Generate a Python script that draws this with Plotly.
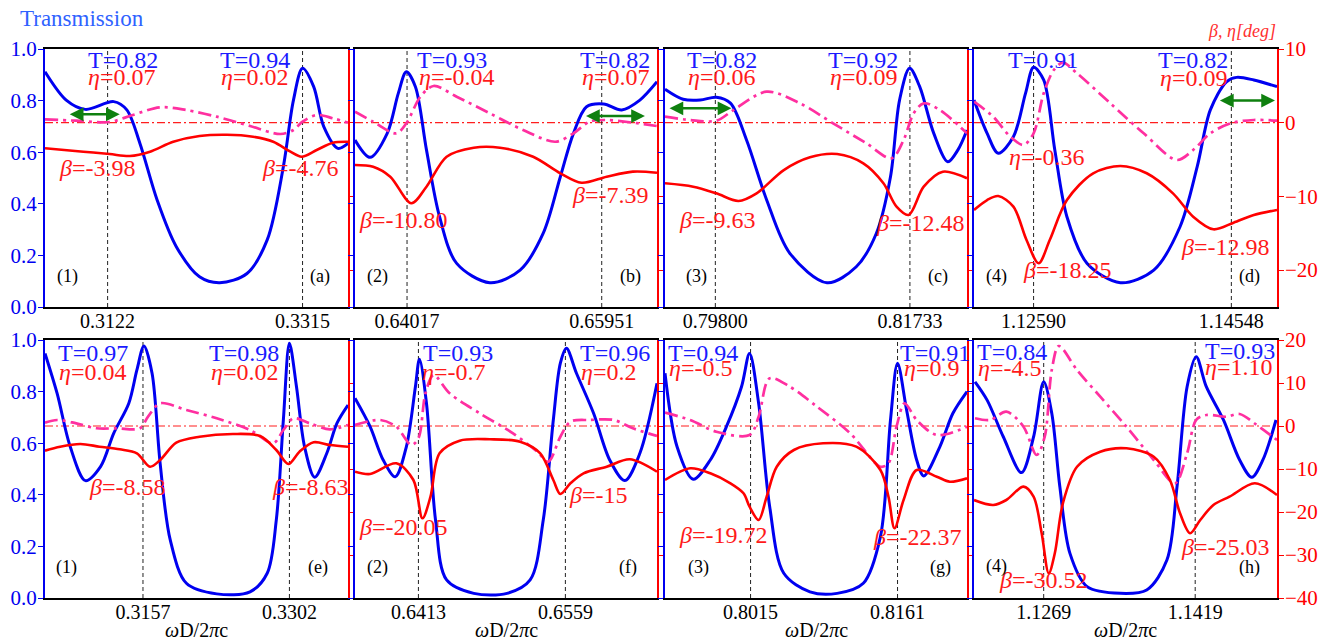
import plotly.graph_objects as go

# ---------------- DATA ----------------
# Panel (a)
freq_T_a = [0.3060, 0.3081, 0.3100, 0.3128, 0.3141, 0.3154, 0.3171, 0.3190, 0.3213, 0.3233, 0.3260, 0.3280, 0.3296, 0.3306, 0.3315, 0.3326, 0.3336, 0.3350, 0.3360]
T_a = [0.912, 0.802, 0.766, 0.796, 0.764, 0.634, 0.415, 0.234, 0.117, 0.094, 0.130, 0.260, 0.544, 0.802, 0.925, 0.854, 0.699, 0.615, 0.634]
freq_beta_a = [0.3060, 0.3098, 0.3124, 0.3144, 0.3164, 0.3187, 0.3213, 0.3240, 0.3266, 0.3286, 0.3303, 0.3314, 0.3329, 0.3345, 0.3360]
beta_a = [-3.47, -3.93, -4.25, -4.52, -3.93, -2.58, -1.80, -1.63, -1.90, -2.58, -3.93, -4.61, -3.70, -2.71, -2.58]
freq_eta_a = [0.3060, 0.3091, 0.3124, 0.3147, 0.3174, 0.3200, 0.3230, 0.3263, 0.3293, 0.3306, 0.3315, 0.3329, 0.3345, 0.3360]
eta_a = [0.46, 0.27, 0.10, 1.05, 2.09, 1.72, 0.82, -0.45, -1.53, -0.99, 0.14, 1.05, 0.60, 0.0]

# Panel (b)
freq_T_b = [0.6350, 0.6365, 0.6382, 0.6393, 0.6401, 0.6410, 0.6421, 0.6434, 0.6451, 0.6484, 0.6514, 0.6537, 0.6554, 0.6567, 0.6580, 0.6597, 0.6615, 0.6633, 0.6650]
T_b = [0.647, 0.580, 0.673, 0.828, 0.912, 0.854, 0.609, 0.350, 0.169, 0.094, 0.143, 0.286, 0.505, 0.673, 0.776, 0.787, 0.764, 0.802, 0.873]
freq_beta_b = [0.6350, 0.6368, 0.6385, 0.6406, 0.6421, 0.6441, 0.6468, 0.6494, 0.6527, 0.6554, 0.6575, 0.6600, 0.6626, 0.6650]
beta_b = [-5.74, -5.97, -7.32, -10.93, -8.68, -4.61, -3.39, -3.39, -4.61, -6.86, -8.14, -7.32, -6.64, -6.78]
freq_eta_b = [0.6350, 0.6368, 0.6391, 0.6401, 0.6415, 0.6428, 0.6451, 0.6484, 0.6517, 0.6549, 0.6567, 0.6583, 0.6600, 0.6626, 0.6650]
eta_b = [1.49, 0.14, -1.44, -0.08, 3.53, 4.98, 3.53, 1.27, -0.99, -2.58, -1.44, 0.14, 0.37, 0.01, -0.45]

# Panel (c)
freq_T_c = [0.7930, 0.7948, 0.7965, 0.7981, 0.7995, 0.8011, 0.8031, 0.8054, 0.8091, 0.8120, 0.8140, 0.8154, 0.8163, 0.8173, 0.8183, 0.8197, 0.8211, 0.8221, 0.8230]
T_c = [0.844, 0.805, 0.802, 0.813, 0.790, 0.647, 0.415, 0.208, 0.094, 0.156, 0.286, 0.505, 0.802, 0.925, 0.854, 0.673, 0.563, 0.609, 0.686]
freq_beta_c = [0.7930, 0.7958, 0.7981, 0.8003, 0.8021, 0.8048, 0.8074, 0.8101, 0.8127, 0.8147, 0.8160, 0.8172, 0.8187, 0.8206, 0.8230]
beta_c = [-8.22, -8.68, -9.58, -10.62, -9.58, -6.42, -4.69, -4.25, -5.51, -8.22, -11.39, -12.52, -8.68, -6.64, -7.54]
freq_eta_c = [0.7930, 0.7955, 0.7981, 0.7998, 0.8031, 0.8064, 0.8097, 0.8130, 0.8155, 0.8167, 0.8177, 0.8187, 0.8203, 0.8230]
eta_c = [0.82, 0.37, 0.27, 1.72, 4.21, 2.63, -0.08, -2.79, -4.83, -2.35, 1.27, 2.63, 1.72, -1.44]

# Panel (d)
freq_T_d = [1.1200, 1.1213, 1.1224, 1.1239, 1.1251, 1.1259, 1.1269, 1.1280, 1.1292, 1.1312, 1.1345, 1.1378, 1.1404, 1.1421, 1.1434, 1.1450, 1.1460, 1.1477, 1.1500]
T_d = [0.802, 0.673, 0.596, 0.660, 0.828, 0.929, 0.880, 0.609, 0.350, 0.169, 0.094, 0.143, 0.311, 0.544, 0.764, 0.873, 0.890, 0.880, 0.854]
freq_beta_d = [1.1200, 1.1213, 1.1224, 1.1239, 1.1252, 1.1264, 1.1275, 1.1292, 1.1318, 1.1345, 1.1371, 1.1397, 1.1417, 1.1437, 1.1457, 1.1477, 1.1500]
beta_d = [-11.84, -10.49, -9.94, -11.39, -15.91, -19.07, -15.91, -10.49, -6.86, -5.87, -6.86, -9.58, -12.75, -14.46, -13.56, -12.52, -11.84]
freq_eta_d = [1.1200, 1.1219, 1.1236, 1.1249, 1.1259, 1.1269, 1.1279, 1.1288, 1.1302, 1.1335, 1.1368, 1.1401, 1.1417, 1.1434, 1.1454, 1.1477, 1.1500]
eta_d = [2.85, 0.82, -1.90, -3.02, -1.44, 3.99, 7.15, 8.14, 6.70, 2.63, -1.44, -5.06, -3.70, -1.44, -0.08, 0.37, 0.27]

# Panel (e)
freq_T_e = [0.3060, 0.3072, 0.3085, 0.3100, 0.3115, 0.3128, 0.3143, 0.3151, 0.3158, 0.3166, 0.3174, 0.3184, 0.3200, 0.3230, 0.3263, 0.3280, 0.3289, 0.3296, 0.3302, 0.3309, 0.3317, 0.3327, 0.3339, 0.3349, 0.3360]
T_e = [0.948, 0.793, 0.586, 0.455, 0.509, 0.638, 0.755, 0.884, 0.977, 0.871, 0.522, 0.225, 0.057, 0.016, 0.024, 0.096, 0.302, 0.690, 0.987, 0.819, 0.586, 0.468, 0.561, 0.677, 0.748]
freq_beta_e = [0.3060, 0.3075, 0.3095, 0.3114, 0.3134, 0.3151, 0.3164, 0.3174, 0.3190, 0.3213, 0.3246, 0.3273, 0.3289, 0.3301, 0.3312, 0.3326, 0.3342, 0.3360]
beta_e = [-5.74, -4.81, -4.19, -4.81, -5.42, -6.35, -9.47, -7.91, -3.88, -2.49, -1.86, -2.33, -5.58, -8.84, -5.98, -3.79, -4.42, -4.81]
freq_eta_e = [0.3060, 0.3072, 0.3091, 0.3111, 0.3131, 0.3154, 0.3162, 0.3174, 0.3200, 0.3230, 0.3263, 0.3286, 0.3296, 0.3306, 0.3322, 0.3342, 0.3360]
eta_e = [0.77, 1.40, 0.62, -0.53, -0.53, -0.53, 2.16, 5.28, 3.72, 1.79, -0.93, -4.02, -0.93, 1.79, 0.62, -0.77, 0.23]

# Panel (f)
freq_T_f = [0.6350, 0.6365, 0.6378, 0.6390, 0.6401, 0.6410, 0.6414, 0.6421, 0.6430, 0.6441, 0.6468, 0.6501, 0.6524, 0.6537, 0.6547, 0.6554, 0.6560, 0.6570, 0.6587, 0.6603, 0.6618, 0.6633, 0.6650]
T_f = [0.774, 0.664, 0.535, 0.470, 0.586, 0.819, 0.925, 0.755, 0.302, 0.070, 0.018, 0.018, 0.070, 0.302, 0.690, 0.910, 0.968, 0.871, 0.716, 0.535, 0.455, 0.561, 0.832]
freq_beta_f = [0.6350, 0.6365, 0.6391, 0.6408, 0.6417, 0.6425, 0.6434, 0.6454, 0.6484, 0.6514, 0.6534, 0.6547, 0.6554, 0.6564, 0.6577, 0.6600, 0.6623, 0.6650]
beta_f = [-10.63, -11.16, -8.67, -12.56, -21.47, -16.44, -6.35, -3.41, -3.09, -3.65, -6.35, -12.56, -15.81, -13.33, -11.0, -9.47, -7.74, -10.63]
freq_eta_f = [0.6350, 0.6375, 0.6391, 0.6406, 0.6413, 0.6420, 0.6428, 0.6444, 0.6474, 0.6507, 0.6531, 0.6542, 0.6554, 0.6564, 0.6583, 0.6607, 0.6626, 0.6650]
eta_f = [0.23, 1.40, -0.16, -4.42, -2.86, 7.60, 11.86, 7.60, 2.95, -1.70, -5.98, -8.30, -2.49, 1.0, 1.40, 1.40, -0.53, -2.33]

# Panel (g)
freq_T_g = [0.7930, 0.7942, 0.7958, 0.7975, 0.7991, 0.8006, 0.8014, 0.8023, 0.8034, 0.8048, 0.8074, 0.8101, 0.8127, 0.8144, 0.8154, 0.8161, 0.8170, 0.8180, 0.8187, 0.8203, 0.8216, 0.8230]
T_g = [0.871, 0.586, 0.460, 0.535, 0.664, 0.819, 0.948, 0.755, 0.354, 0.096, 0.024, 0.018, 0.057, 0.238, 0.690, 0.910, 0.729, 0.535, 0.473, 0.586, 0.716, 0.800]
freq_beta_g = [0.7930, 0.7955, 0.7975, 0.7995, 0.8008, 0.8014, 0.8023, 0.8031, 0.8041, 0.8058, 0.8087, 0.8120, 0.8144, 0.8152, 0.8158, 0.8167, 0.8180, 0.8200, 0.8213, 0.8230]
beta_g = [-12.56, -9.84, -11.0, -13.33, -15.65, -18.77, -21.86, -16.44, -9.47, -5.58, -4.02, -4.81, -10.23, -16.44, -23.79, -17.21, -10.23, -11.79, -12.95, -12.16]
freq_eta_g = [0.7930, 0.7955, 0.7981, 0.8014, 0.8023, 0.8034, 0.8054, 0.8081, 0.8114, 0.8144, 0.8152, 0.8160, 0.8168, 0.8180, 0.8200, 0.8230]
eta_g = [3.10, 1.40, -1.33, -2.09, 2.16, 11.09, 9.14, 4.49, -1.70, -9.47, -8.67, -0.16, 5.28, 1.40, -2.09, -0.16]

# Panel (h)
freq_T_h = [1.1201, 1.1213, 1.1229, 1.1247, 1.1259, 1.1269, 1.1277, 1.1285, 1.1295, 1.1312, 1.1345, 1.1371, 1.1391, 1.1401, 1.1411, 1.1420, 1.1430, 1.1447, 1.1463, 1.1475, 1.1486, 1.1499]
T_h = [0.838, 0.767, 0.625, 0.486, 0.625, 0.838, 0.716, 0.431, 0.173, 0.044, 0.018, 0.031, 0.147, 0.431, 0.819, 0.935, 0.819, 0.690, 0.535, 0.468, 0.535, 0.690]
freq_beta_h = [1.1200, 1.1219, 1.1232, 1.1249, 1.1259, 1.1267, 1.1274, 1.1280, 1.1288, 1.1302, 1.1325, 1.1351, 1.1378, 1.1394, 1.1404, 1.1414, 1.1424, 1.1437, 1.1453, 1.1478, 1.1500]
beta_h = [-17.21, -18.37, -17.21, -14.11, -16.44, -24.95, -34.26, -29.6, -17.98, -9.47, -5.98, -5.19, -7.14, -12.56, -20.3, -24.95, -21.86, -18.37, -16.44, -13.33, -16.05]
freq_eta_h = [1.1201, 1.1216, 1.1232, 1.1249, 1.1262, 1.1270, 1.1277, 1.1284, 1.1302, 1.1325, 1.1351, 1.1378, 1.1399, 1.1411, 1.1420, 1.1430, 1.1450, 1.1463, 1.1480, 1.1500]
eta_h = [1.79, 1.40, 3.33, -0.16, -6.74, -2.49, 13.02, 18.60, 13.02, 6.81, -0.16, -7.91, -13.33, -6.35, 1.40, 2.56, 2.16, 2.79, 0.23, -3.26]

# marked frequencies (dashed lines and tick labels)
marks = {
    "a": [0.3122, 0.3315], "b": [0.64017, 0.65951], "c": [0.79800, 0.81733], "d": [1.12590, 1.14548],
    "e": [0.3157, 0.3302], "f": [0.6413, 0.6559], "g": [0.8015, 0.8161], "h": [1.1269, 1.1419],
}
mark_text = {
    "a": ["0.3122", "0.3315"], "b": ["0.64017", "0.65951"], "c": ["0.79800", "0.81733"], "d": ["1.12590", "1.14548"],
    "e": ["0.3157", "0.3302"], "f": ["0.6413", "0.6559"], "g": ["0.8015", "0.8161"], "h": ["1.1269", "1.1419"],
}
T_labels = {
    "a": ["T=0.82", "T=0.94"], "b": ["T=0.93", "T=0.82"], "c": ["T=0.82", "T=0.92"], "d": ["T=0.91", "T=0.82"],
    "e": ["T=0.97", "T=0.98"], "f": ["T=0.93", "T=0.96"], "g": ["T=0.94", "T=0.91"], "h": ["T=0.84", "T=0.93"],
}
eta_labels = {
    "a": ["0.07", "0.02"], "b": ["-0.04", "0.07"], "c": ["0.06", "0.09"], "d": ["-0.36", "0.09"],
    "e": ["0.04", "0.02"], "f": ["-0.7", "0.2"], "g": ["-0.5", "0.9"], "h": ["-4.5", "1.10"],
}
beta_labels = {
    "a": ["-3.98", "-4.76"], "b": ["-10.80", "-7.39"], "c": ["-9.63", "-12.48"], "d": ["-18.25", "-12.98"],
    "e": ["-8.58", "-8.63"], "f": ["-20.05", "-15"], "g": ["-19.72", "-22.37"], "h": ["-30.52", "-25.03"],
}
case_labels = ["(1)", "(2)", "(3)", "(4)", "(1)", "(2)", "(3)", "(4)"]
panel_letters = ["a", "b", "c", "d", "e", "f", "g", "h"]

# green double arrows (frequency span, transmission level)
arrows = {
    "a": ([0.3083, 0.3134], 0.747), "b": ([0.6578, 0.6638], 0.740),
    "c": ([0.7933, 0.7996], 0.770), "d": ([1.1442, 1.1498], 0.800),
}

# ---------------- LAYOUT / STYLE ----------------
series = {p: (globals()["freq_T_" + p], globals()["T_" + p],
              globals()["freq_beta_" + p], globals()["beta_" + p],
              globals()["freq_eta_" + p], globals()["eta_" + p]) for p in panel_letters}

x_ranges = [[0.306, 0.336], [0.635, 0.665], [0.793, 0.823], [1.12, 1.15]]
right_ranges = [[-25, 10], [-40, 20]]
W, H = 1327, 643
col_px = [(45, 348), (355, 657), (665, 967), (974, 1277)]
row_px = [(49, 307), (340, 598)]

# label positions in panel-domain fractions: T1, eta1, T2, eta2, beta1, beta2, case, letter
label_pos = {
    "a": [(0.257, 0.957), (0.254, 0.891), (0.693, 0.957), (0.693, 0.891), (0.172, 0.539), (0.842, 0.539), (0.073, 0.12), (0.908, 0.12)],
    "b": [(0.320, 0.957), (0.337, 0.891), (0.861, 0.957), (0.861, 0.891), (0.160, 0.337), (0.844, 0.434), (0.074, 0.12), (0.911, 0.12)],
    "c": [(0.188, 0.957), (0.188, 0.891), (0.657, 0.957), (0.657, 0.891), (0.171, 0.337), (0.844, 0.324), (0.105, 0.12), (0.905, 0.12)],
    "d": [(0.229, 0.957), (0.240, 0.583), (0.724, 0.957), (0.724, 0.886), (0.306, 0.143), (0.828, 0.234), (0.075, 0.12), (0.909, 0.12)],
    "e": [(0.157, 0.948), (0.157, 0.877), (0.658, 0.948), (0.658, 0.877), (0.270, 0.431), (0.875, 0.431), (0.072, 0.119), (0.902, 0.119)],
    "f": [(0.342, 0.948), (0.326, 0.877), (0.861, 0.948), (0.839, 0.877), (0.160, 0.274), (0.806, 0.399), (0.074, 0.119), (0.905, 0.119)],
    "g": [(0.127, 0.950), (0.116, 0.890), (0.894, 0.950), (0.883, 0.890), (0.193, 0.244), (0.833, 0.238), (0.110, 0.119), (0.911, 0.119)],
    "h": [(0.124, 0.952), (0.117, 0.890), (0.878, 0.958), (0.872, 0.897), (0.229, 0.070), (0.828, 0.199), (0.075, 0.124), (0.909, 0.119)],
}

BLUE = "#0000f0"
RED = "#ff0000"
PINK = "#ff2fa0"
GREEN = "#0f800f"
LBL_BLUE = "#1a1aff"
LBL_RED = "#ff1a1a"
SERIF = "Liberation Serif, Times New Roman, serif"
ETA_DASH = "13px,5px,3px,5px"

fig = go.Figure()
layout = dict(
    width=W, height=H, margin=dict(l=0, r=0, t=0, b=0, autoexpand=False), autosize=False,
    paper_bgcolor="white", plot_bgcolor="white", showlegend=False,
    font=dict(family=SERIF, size=20, color="black"),
)
annotations = []
shapes = []

for i, p in enumerate(panel_letters):
    r, c = divmod(i, 4)
    n = i + 1
    xa = "x" if n == 1 else f"x{n}"
    ya = "y" if n == 1 else f"y{n}"
    yb = f"y{n + 8}"
    xkey = "xaxis" if n == 1 else f"xaxis{n}"
    ykey = "yaxis" if n == 1 else f"yaxis{n}"
    ybkey = f"yaxis{n + 8}"
    L, R = col_px[c]
    Tp, Bp = row_px[r]

    layout[xkey] = dict(
        domain=[L / W, R / W], anchor=ya, range=x_ranges[c], automargin=False,
        showline=True, linecolor="black", linewidth=1.5, mirror=True,
        showgrid=False, zeroline=False, ticks="", ticklabelstandoff=-5,
        tickmode="array", tickvals=marks[p], ticktext=mark_text[p],
        tickfont=dict(family=SERIF, size=20, color="black"),
    )
    layout[ykey] = dict(
        domain=[1 - Bp / H, 1 - Tp / H], anchor=xa, range=[0, 1], dtick=0.2, automargin=False,
        tickformat=".1f", showline=True, linecolor=BLUE, linewidth=2,
        ticks="outside", ticklen=5, tickcolor=BLUE, tickwidth=1, ticklabelstandoff=-3,
        showgrid=False, zeroline=False, showticklabels=(c == 0),
        tickfont=dict(family=SERIF, size=21, color=BLUE),
    )
    layout[ybkey] = dict(
        overlaying=ya, side="right", anchor=xa, range=right_ranges[r], dtick=10, automargin=False,
        showline=True, linecolor=RED, linewidth=1.5,
        ticks="outside", ticklen=5, tickcolor=RED, tickwidth=1, ticklabelstandoff=-3,
        showgrid=False, zeroline=False, showticklabels=(c == 3),
        tickfont=dict(family=SERIF, size=21, color=RED),
    )

    fT, T, fb, b, fe, e = series[p]
    fig.add_trace(go.Scatter(x=fe, y=e, xaxis=xa, yaxis=yb, mode="lines",
                             line=dict(color=PINK, width=2.7, dash=ETA_DASH, shape="spline", smoothing=0.9)))
    fig.add_trace(go.Scatter(x=fb, y=b, xaxis=xa, yaxis=yb, mode="lines",
                             line=dict(color=RED, width=2.6, shape="spline", smoothing=0.9)))
    fig.add_trace(go.Scatter(x=fT, y=T, xaxis=xa, yaxis=ya, mode="lines",
                             line=dict(color=BLUE, width=3, shape="spline", smoothing=0.9)))

    # zero line of the angle axis
    shapes.append(dict(type="line", xref=f"{xa} domain", yref=yb, x0=0, x1=1, y0=0, y1=0,
                       line=dict(color="rgb(255,30,30)", width=1.2, dash="8px,3px,2px,3px"), layer="below"))
    # marked frequencies
    for m in marks[p]:
        shapes.append(dict(type="line", xref=xa, yref=f"{ya} domain", x0=m, x1=m, y0=0, y1=1,
                           line=dict(color="#222222", width=1, dash="4px,3px"), layer="below"))

    pos = label_pos[p]
    texts = [
        (T_labels[p][0], LBL_BLUE, 24), ("<i>η</i>=" + eta_labels[p][0], LBL_RED, 24),
        (T_labels[p][1], LBL_BLUE, 24), ("<i>η</i>=" + eta_labels[p][1], LBL_RED, 24),
        ("<i>β</i>=" + beta_labels[p][0], LBL_RED, 24), ("<i>β</i>=" + beta_labels[p][1], LBL_RED, 24),
        (case_labels[i], "black", 18), ("(" + p + ")", "black", 18),
    ]
    for (txt, col, sz), (fx, fy) in zip(texts, pos):
        annotations.append(dict(text=txt, xref=f"{xa} domain", yref=f"{ya} domain", x=fx, y=fy,
                                xanchor="center", yanchor="middle", showarrow=False,
                                font=dict(family=SERIF, size=sz, color=col)))

    if p in arrows:
        (x0, x1), lev = arrows[p]
        annotations.append(dict(text="", xref=xa, yref=ya, x=x1, y=lev, ax=x0, ay=lev,
                                axref=xa, ayref=ya, showarrow=True, arrowside="end+start",
                                arrowhead=2, arrowsize=1.1, arrowwidth=2.5, arrowcolor=GREEN,
                                standoff=0, startstandoff=0))

# axis titles and headers
for c in range(4):
    L, R = col_px[c]
    annotations.append(dict(text="<i>ω</i>D/2<i>π</i>c", xref="paper", yref="paper",
                            x=(L + R) / 2 / W, y=1 - 630 / H, xanchor="center", yanchor="middle",
                            showarrow=False, font=dict(family=SERIF, size=20, color="black")))
annotations.append(dict(text="Transmission", xref="paper", yref="paper", x=18 / W, y=1 - 18 / H,
                        xanchor="left", yanchor="middle", showarrow=False,
                        font=dict(family=SERIF, size=23, color="#2f62ff")))
annotations.append(dict(text="<i>β, η[deg]</i>", xref="paper", yref="paper", x=1278 / W, y=1 - 31 / H,
                        xanchor="right", yanchor="middle", showarrow=False,
                        font=dict(family=SERIF, size=18, color="#ff3030")))

layout["annotations"] = annotations
layout["shapes"] = shapes
fig.update_layout(**layout)
fig.write_html("out.html", config={"displayModeBar": False},
               post_script="document.body.style.margin='0';document.body.style.overflow='hidden';")
